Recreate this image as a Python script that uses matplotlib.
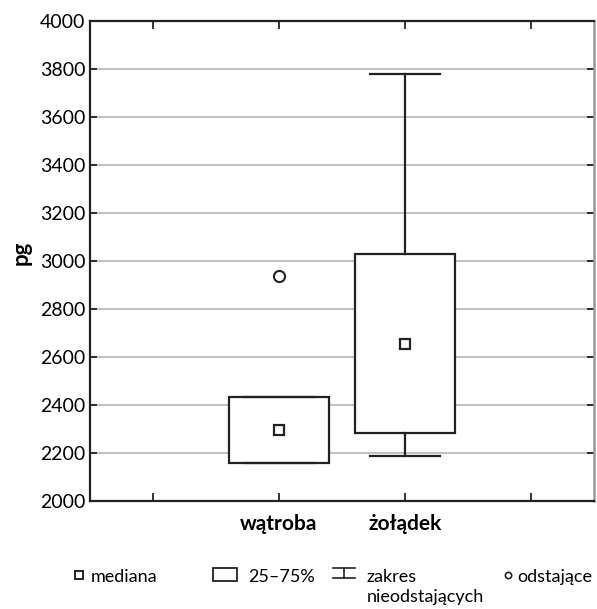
import matplotlib
matplotlib.use("Agg")
import matplotlib.pyplot as plt
from matplotlib.patches import Rectangle
from matplotlib.lines import Line2D

plt.rcParams['font.family'] = ['Lato', 'DejaVu Sans']

categories = ['wątroba', 'żołądek']
q1 = [2160, 2282]
q3 = [2433, 3029]
medians = [2295, 2654]
whisk_lo = [2160, 2188]
whisk_hi = [2433, 3779]
outliers = [[2939], []]
tick_labels = ['', 'wątroba', 'żołądek', '']
yticks = [2000, 2200, 2400, 2600, 2800, 3000, 3200, 3400, 3600, 3800, 4000]

fig = plt.figure(figsize=(5.97, 6.09), dpi=100)
W, H = 597, 609
ax = fig.add_axes([90 / W, 1 - 501 / H, (594 - 90) / W, (501 - 21) / H])

positions = [1, 2]
stats = []
for i, c in enumerate(categories):
    stats.append(dict(label=c, med=medians[i], q1=q1[i], q3=q3[i],
                      whislo=whisk_lo[i], whishi=whisk_hi[i], fliers=outliers[i]))

ax.bxp(stats, positions=positions, widths=0.8, patch_artist=True,
       boxprops=dict(facecolor='white', edgecolor='#222222', linewidth=1.6),
       whiskerprops=dict(color='#222222', linewidth=1.6),
       capprops=dict(color='#222222', linewidth=1.6),
       capwidths=0.56,
       medianprops=dict(linestyle='none'),
       flierprops=dict(marker='o', markersize=8, markerfacecolor='white',
                       markeredgecolor='#222222', markeredgewidth=1.5),
       zorder=3)
ax.plot(positions, medians, linestyle='none', marker='s', markersize=7,
        markerfacecolor='white', markeredgecolor='#222222', markeredgewidth=1.6,
        zorder=4)

ax.set_xlim(-0.5, 3.5)
ax.set_ylim(2000, 4000)
ax.set_xticks([0, 1, 2, 3])
ax.set_xticklabels(tick_labels, fontsize=15, fontweight='bold')
ax.set_yticks(yticks)
ax.set_yticklabels([str(v) for v in yticks], fontsize=14)
ax.yaxis.grid(True, color='#b5b5b5', linewidth=1.2, zorder=0)
ax.set_axisbelow(True)
ax.tick_params(axis='x', direction='in', length=6, width=1.3, top=True, bottom=True, pad=9, color='#222222')
ax.tick_params(axis='y', direction='in', length=5, width=1.3, left=True, right=True, pad=3.5, color='#222222')
for s in ['left', 'top', 'bottom']:
    ax.spines[s].set_linewidth(1.6)
    ax.spines[s].set_color('#222222')
ax.spines['right'].set_color('#999999')
ax.spines['right'].set_linewidth(1.8)
fig.text(21 / W, 1 - 253 / H, 'pg', fontsize=16, fontweight='bold',
         rotation=90, ha='center', va='center')

# legend axes in pixel coordinates
lax = fig.add_axes([0, 0, 1, 60 / H])
lax.set_xlim(0, W)
lax.set_ylim(H, H - 60)
lax.axis('off')
lax.plot([79], [575], marker='s', markersize=6, markerfacecolor='white',
         markeredgecolor='#222222', markeredgewidth=1.4, linestyle='none')
lax.text(91, 577, 'mediana', fontsize=13, va='center', ha='left')
lax.add_patch(Rectangle((213, 568), 24, 13, facecolor='white', edgecolor='#222222', linewidth=1.3))
lax.text(248, 577, '25–75%', fontsize=13, va='center', ha='left')
lax.add_line(Line2D([333, 355], [568, 568], color='#222222', linewidth=1.2))
lax.add_line(Line2D([333, 355], [578, 578], color='#222222', linewidth=1.2))
lax.add_line(Line2D([344, 344], [568, 578], color='#222222', linewidth=1.2))
lax.text(367, 577, 'zakres', fontsize=13, va='center', ha='left')
lax.text(367, 597, 'nieodstających', fontsize=13, va='center', ha='left')
lax.plot([508], [575], marker='o', markersize=4.5, markerfacecolor='white',
         markeredgecolor='#222222', markeredgewidth=1.2, linestyle='none')
lax.text(517, 577, 'odstające', fontsize=13, va='center', ha='left')

fig.savefig('out.png', dpi=100)
